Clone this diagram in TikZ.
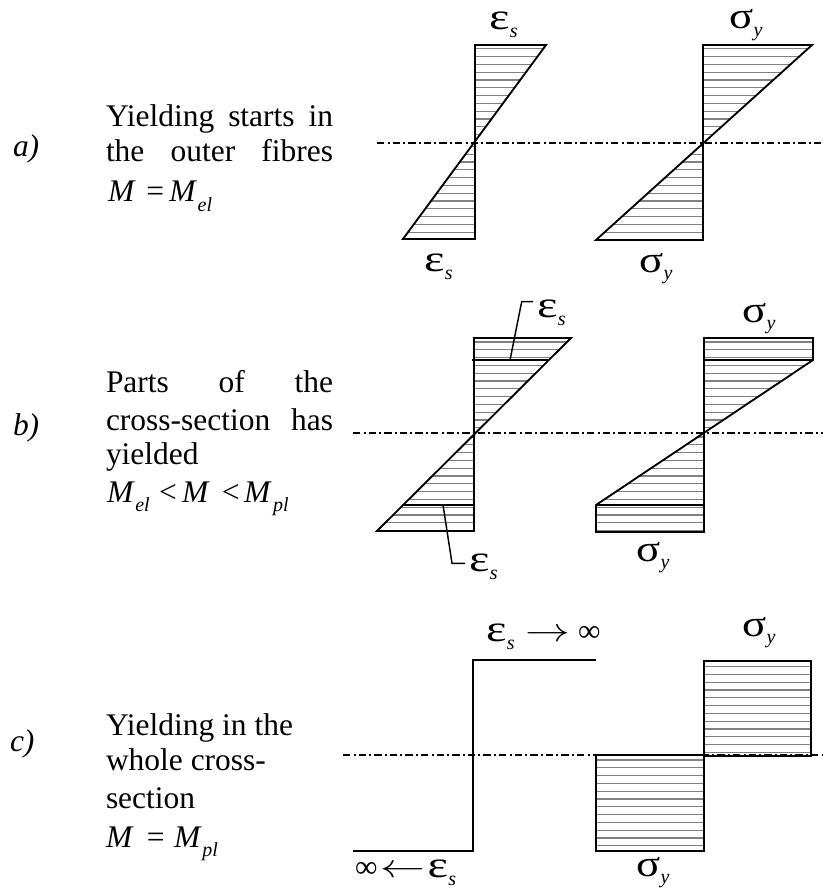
\documentclass[tikz,border=0pt]{standalone}
\usepackage{fontspec}
\usepackage{graphicx}
\setmainfont{Liberation Serif}
\newcommand\Gk[2]{\scalebox{#2}[1]{\fontsize{28pt}{28pt}\selectfont #1}}
\newcommand\Eps{\Gk{ε}{1.3}\kern0.3pt\raisebox{-6pt}{\fontsize{15pt}{15pt}\selectfont\itshape s}}
\newcommand\Sig{\Gk{σ}{1.2}\kern0.3pt\raisebox{-5.5pt}{\fontsize{15pt}{15pt}\selectfont\itshape y}}
\newcommand\Mi{\textit{M}}
\newcommand\Arr[1]{\scalebox{1.35}[1]{$#1$}}
\newcommand\subsc[1]{\raisebox{-7pt}{\fontsize{15pt}{15pt}\selectfont\itshape #1}}
\newcommand\jline[1]{\makebox[170.25pt][s]{#1}}
\newcommand\hatchfill[4]{\begin{scope}\clip #1;\foreach \yy in {#2,#3,...,#4} \draw[hatchline] (300,\yy) -- (823,\yy);\end{scope}}
\begin{document}
\begin{tikzpicture}[x=0.75pt,y=-0.75pt,
  outl/.style={line width=1.4pt, line join=miter},
  lead/.style={line width=1.1pt},
  hatchline/.style={black!50, line width=0.9pt},
  axisline/.style={line width=1.1pt, dash pattern=on 5.6pt off 2.3pt on 1.5pt off 2.3pt},
  txt/.style={anchor=base west, inner sep=0pt, outer sep=0pt, font=\fontsize{23.6pt}{26pt}\selectfont},
  lbl/.style={anchor=base west, inner sep=0pt, outer sep=0pt, font=\fontsize{23.6pt}{26pt}\selectfont}]
\useasboundingbox (0,0) rectangle (823,891);

% ---------- hatching ----------
\hatchfill{(475,45)--(546,45)--(475,143)--cycle}{48.9}{56.7}{143}
\hatchfill{(475,143)--(403,239)--(475,239)--cycle}{146.5}{154.3}{239}
\hatchfill{(703,45)--(812,45)--(703,143)--cycle}{48.9}{56.7}{143}
\hatchfill{(703,143)--(596,240)--(703,240)--cycle}{146.5}{154.3}{240}
\hatchfill{(474,338)--(571,338)--(474,433)--cycle}{342}{349.8}{433}
\hatchfill{(474,433)--(377,531)--(474,531)--cycle}{437}{444.8}{531}
\hatchfill{(704,338)--(813,338)--(813,360)--(704,433)--cycle}{342}{349.8}{433}
\hatchfill{(704,433)--(596,505)--(596,532)--(704,532)--cycle}{437}{444.8}{532}
\hatchfill{(596,755) rectangle (704,851)}{760}{767.8}{851}
\hatchfill{(704,661) rectangle (811,756)}{666.5}{674.3}{756}

% ---------- neutral axes ----------
\draw[axisline] (377,143) -- (823,143);
\draw[axisline] (353,433) -- (823,433);
\draw[axisline] (343,755) -- (823,755);

% ---------- outlines a ----------
\draw[outl] (475,45) -- (546,45) -- (403,239) -- (475,239) -- cycle;
\draw[outl] (703,45) -- (812,45) -- (596,240) -- (703,240) -- cycle;
% ---------- outlines b ----------
\draw[outl] (474,338) -- (571,338) -- (377,531) -- (474,531) -- cycle;
\draw[outl] (472,360) -- (548,360);
\draw[outl] (402,505) -- (474,505);
\draw[outl] (704,338) -- (813,338) -- (813,360) -- (596,505) -- (596,532) -- (704,532) -- cycle;
\draw[outl] (704,360) -- (813,360);
\draw[outl] (596,505) -- (704,505);
% ---------- outlines c ----------
\draw[outl] (353,851) -- (473,851) -- (473,660) -- (596,660);
\draw[outl] (596,755) rectangle (704,851);
\draw[outl] (704,661) rectangle (811,756);

% ---------- leaders b ----------
\coordinate (ua) at (510,360);
\coordinate (ub) at (521.7,301.7);
\coordinate (uc) at (533,301.7);
\coordinate (da) at (443,505);
\coordinate (db) at (452,563.3);
\coordinate (dc) at (465,563.3);
\draw[lead] (ua) -- (ub) -- (uc);
\draw[lead] (da) -- (db) -- (dc);

% ---------- diagram labels ----------
\node[lbl] (eat) at (489,30) {\Eps};
\node[lbl] (eab) at (424,271) {\Eps};
\node[lbl] (sat) at (729,29) {\Sig};
\node[lbl] (sab) at (639,272) {\Sig};
\node[lbl] (ebt) at (537,317) {\Eps};
\node[lbl] (ebb) at (469,571) {\Eps};
\node[lbl] (sbt) at (742,322) {\Sig};
\node[lbl] (sbb) at (636,561) {\Sig};
\node[lbl] (ect) at (486,641) {\Eps\hspace{8pt}\Arr{\rightarrow}\hspace{6pt}∞};
\node[lbl] (ecb) at (355,877) {∞\hspace{2pt}\Arr{\leftarrow}\hspace{2pt}\Eps};
\node[lbl] (sct) at (742,636) {\Sig};
\node[lbl] (scb) at (636,876) {\Sig};

% ---------- left texts ----------
\node[txt] (la) at (13,157) {\textit{a)}};
\node[txt] (ta1) at (106,127) {\jline{Yielding starts in}};
\node[txt] (ta2) at (106,162) {\jline{the outer fibres}};
\node[txt] (ta3) at (108,201.7) {\Mi\hspace{8pt}=\hspace{4pt}\Mi\hspace{0.5pt}\subsc{el}};

\node[txt] (lb) at (13,435) {\textit{b)}};
\node[txt] (tb1) at (106,392) {\jline{Parts of the}};
\node[txt] (tb2) at (106,430) {\jline{cross-section has}};
\node[txt] (tb3) at (106,464) {yielded};
\node[txt] (tb4) at (107,502) {\Mi\hspace{0.5pt}\subsc{el}\hspace{7pt}<\hspace{4pt}\Mi\hspace{9pt}<\hspace{3.5pt}\Mi\hspace{1pt}\subsc{pl}};

\node[txt] (lc) at (10,751) {\textit{c)}};
\node[txt] (tc1) at (106,735) {Yielding in the};
\node[txt] (tc2) at (106,770) {whole cross-};
\node[txt] (tc3) at (106,808) {section};
\node[txt] (tc4) at (106,847) {\Mi\hspace{10pt}=\hspace{7pt}\Mi\hspace{0.5pt}\subsc{pl}};
\end{tikzpicture}
\end{document}
